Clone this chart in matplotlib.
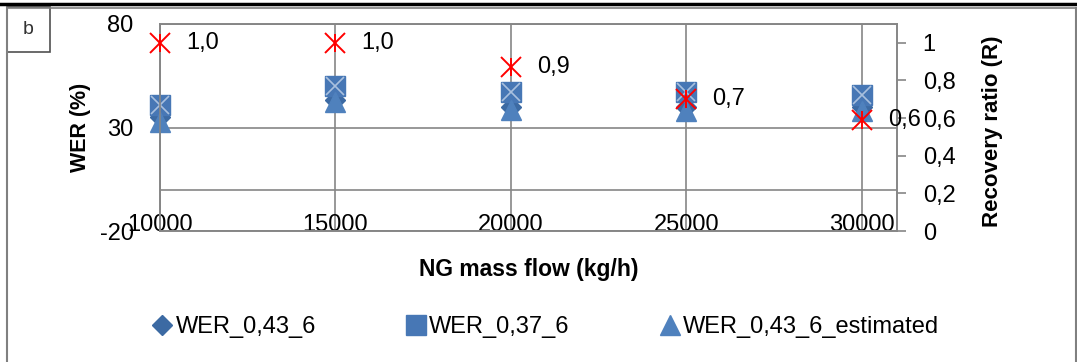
import matplotlib
matplotlib.use("Agg")
import matplotlib.pyplot as plt
from matplotlib.lines import Line2D
from matplotlib.patches import Rectangle

plt.rcParams["font.family"] = ["Liberation Sans", "DejaVu Sans"]
plt.rcParams["axes.unicode_minus"] = False

# data
mass_flow = [10000, 15000, 20000, 25000, 30000]
wer_043_6 = [35, 43.5, 40, 40, 40]
wer_037_6 = [41, 50, 47, 47, 45.5]
wer_043_6_est = [32.5, 42.5, 38.5, 38, 38]
recovery = [1.0, 1.0, 0.87, 0.70, 0.59]

wer_ticks = [-20, 30, 80]
r_ticks = [0, 0.2, 0.4, 0.6, 0.8, 1.0]

grey = "#868686"
W, H = 1077, 362

fig = plt.figure(figsize=(W / 100, H / 100), dpi=100)
ax = fig.add_axes([160 / W, 1 - 231 / H, 737 / W, 207 / H])

# WER series (left axis)
ax.plot(mass_flow, wer_043_6, ls="none", marker="D", ms=10.2, color="#3C6AA3",
        label="WER_0,43_6", zorder=3, clip_on=False)
ax.plot(mass_flow, wer_037_6, ls="none", marker="s", ms=14.4, color="#4777B5",
        label="WER_0,37_6", zorder=3, clip_on=False)
ax.plot(mass_flow, wer_037_6, ls="none", marker="x", ms=13, mew=1.2,
        color="#A9C0DE", zorder=3, clip_on=False)
ax.plot(mass_flow, wer_043_6_est, ls="none", marker="^", ms=14.4, color="#4F81BD",
        label="WER_0,43_6_estimated", zorder=3, clip_on=False)

ax.set_xlim(10000, 31000)
ax.set_ylim(-20, 80)
ax.set_xticks(mass_flow)
ax.set_yticks(wer_ticks)
ax.grid(True, color=grey, lw=1.2)
ax.axhline(0, color=grey, lw=1.2, zorder=1)
ax.set_axisbelow(True)
for s in ax.spines.values():
    s.set_color(grey)
    s.set_linewidth(1.2)
ax.tick_params(axis="y", length=0, pad=19, labelsize=17)
ax.tick_params(axis="x", length=0, pad=-12, labelsize=17)

ax.set_ylabel("WER (%)", fontsize=15.5, fontweight="bold")
ax.yaxis.set_label_coords(-0.108, 0.5)
ax.yaxis.label.set_va("center")
ax.set_xlabel("NG mass flow (kg/h)", fontsize=16.5, fontweight="bold")
ax.xaxis.set_label_coords(0.5, -0.188)
ax.xaxis.label.set_va("center")

# recovery ratio (right axis)
ax2 = ax.twinx()
ax2.plot(mass_flow, recovery, ls="none", marker="x", ms=14, mew=1.4, color="red",
         zorder=4, clip_on=False)
ax2.plot(mass_flow, recovery, ls="none", marker="|", ms=13, mew=1.4, color="red",
         zorder=4, clip_on=False)
for x, r in zip(mass_flow, recovery):
    ax2.annotate(f"{r:.1f}".replace(".", ","), (x, r), xytext=(18.7, 0),
                 textcoords="offset points", va="center", ha="left", fontsize=17)
ax2.set_ylim(0, 1.1)
ax2.set_yticks(r_ticks)
ax2.set_yticklabels([f"{t:g}".replace(".", ",") for t in r_ticks])
ax2.tick_params(axis="y", direction="out", length=6.5, width=1.2, color=grey,
                pad=12, labelsize=17)
for s in ax2.spines.values():
    s.set_color(grey)
    s.set_linewidth(1.2)
ax2.set_ylabel("Recovery ratio (R)", fontsize=16, fontweight="bold")
ax2.yaxis.set_label_coords(1.129, 0.48)
ax2.yaxis.label.set_va("center")

# legend
handles, labels = ax.get_legend_handles_labels()
fig.legend(handles, labels, loc="center left", bbox_to_anchor=(152 / W, 1 - 327 / H),
           ncol=3, frameon=False, fontsize=17, handlelength=0.85,
           handletextpad=0.15, columnspacing=3.8, borderpad=0, borderaxespad=0)

# chart frame and panel tag
fig.add_artist(Line2D([0, 1], [1 - 4 / H, 1 - 4 / H], color="black", lw=2.5))
fig.add_artist(Line2D([7 / W, 1076 / W], [1 - 7.5 / H, 1 - 7.5 / H], color="#808080", lw=1.2))
fig.add_artist(Line2D([7 / W, 7 / W], [0, 1 - 7.5 / H], color="#808080", lw=1.5))
fig.add_artist(Line2D([1076 / W, 1076 / W], [0, 1 - 7.5 / H], color="#808080", lw=1.5))
fig.add_artist(Rectangle((7 / W, 1 - 52 / H), 43 / W, 45 / H, fill=False,
                         ec="#505050", lw=1.2, transform=fig.transFigure))
fig.text(28 / W, 1 - 30 / H, "b", fontsize=14, ha="center", va="center", color="#333333")

fig.savefig("out.png", dpi=100)
